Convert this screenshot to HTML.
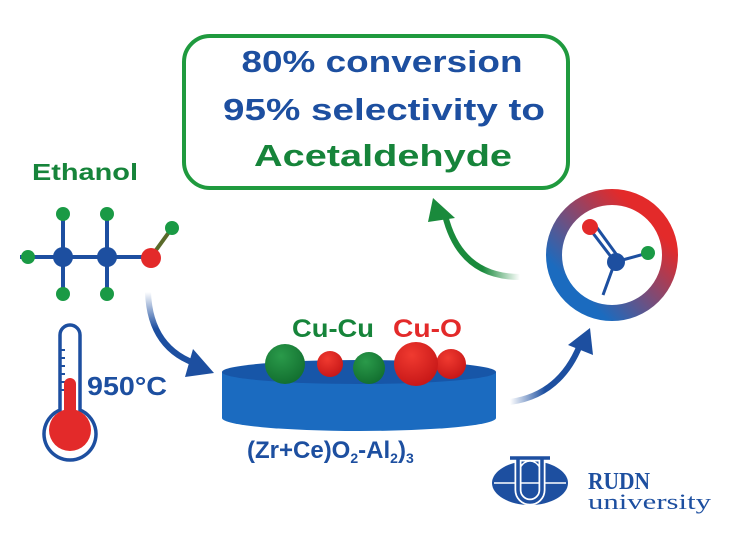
<!DOCTYPE html>
<html><head><meta charset="utf-8"><style>
html,body{margin:0;padding:0;background:#fff;width:750px;height:549px;overflow:hidden}
svg{display:block}
text{font-family:"Liberation Sans",sans-serif;font-weight:bold}
text.serif{font-family:"Liberation Serif",serif}
</style></head><body>
<svg width="750" height="549" viewBox="0 0 750 549" xmlns="http://www.w3.org/2000/svg">
<defs>
<linearGradient id="ring" x1="1" y1="0" x2="0" y2="1"><stop offset="0.2" stop-color="#e32a2a"/><stop offset="0.8" stop-color="#1b6bbf"/></linearGradient>
<linearGradient id="a1" x1="0" y1="0" x2="0" y2="1"><stop offset="0" stop-color="#fff"/><stop offset="0.5" stop-color="#1d4fa0"/></linearGradient>
<linearGradient id="a2" x1="0" y1="0" x2="1" y2="0"><stop offset="0" stop-color="#fff"/><stop offset="0.5" stop-color="#1d4fa0"/></linearGradient>
<linearGradient id="a3" x1="1" y1="0" x2="0" y2="0"><stop offset="0" stop-color="#fff"/><stop offset="0.5" stop-color="#1a8a3c"/></linearGradient>
<radialGradient id="gs" cx="0.4" cy="0.3" r="0.7"><stop offset="0" stop-color="#2a9a4a"/><stop offset="1" stop-color="#137030"/></radialGradient>
<radialGradient id="rs" cx="0.4" cy="0.3" r="0.7"><stop offset="0" stop-color="#f03a30"/><stop offset="1" stop-color="#c81818"/></radialGradient>
</defs>
<rect x="184" y="36" width="384" height="152" rx="26" fill="#fff" stroke="#1f9a3e" stroke-width="4"/>
<text x="382" y="72" text-anchor="middle" font-size="31" fill="#1d4fa0" textLength="281" lengthAdjust="spacingAndGlyphs">80% conversion</text>
<text x="384" y="120" text-anchor="middle" font-size="31" fill="#1d4fa0" textLength="322" lengthAdjust="spacingAndGlyphs">95% selectivity to</text>
<text x="383" y="166" text-anchor="middle" font-size="31" fill="#16843a" textLength="258" lengthAdjust="spacingAndGlyphs">Acetaldehyde</text>
<text x="32" y="180" font-size="23" fill="#16843a" textLength="106" lengthAdjust="spacingAndGlyphs">Ethanol</text>
<g stroke="#1d4fa0" stroke-width="4">
<line x1="20" y1="257" x2="151" y2="257"/><line x1="63" y1="213" x2="63" y2="300"/><line x1="107" y1="213" x2="107" y2="300"/>
</g>
<line x1="151" y1="257" x2="172" y2="228" stroke="#5a6a2a" stroke-width="4"/>
<g fill="#1a9a45"><circle cx="28" cy="257" r="7"/><circle cx="63" cy="214" r="7"/><circle cx="107" cy="214" r="7"/><circle cx="63" cy="294" r="7"/><circle cx="107" cy="294" r="7"/><circle cx="172" cy="228" r="7"/></g>
<circle cx="63" cy="257" r="10" fill="#1d4fa0"/><circle cx="107" cy="257" r="10" fill="#1d4fa0"/><circle cx="151" cy="258" r="10" fill="#e32a2a"/>
<path d="M60,410 V335 a10,10 0 0 1 20,0 V410 a26,26 0 1 1 -20,0 Z" fill="#fff" stroke="#1d4fa0" stroke-width="3.5"/>
<g stroke="#1d4fa0" stroke-width="2"><line x1="60" y1="350" x2="65" y2="350"/><line x1="60" y1="358" x2="65" y2="358"/><line x1="60" y1="366" x2="65" y2="366"/><line x1="60" y1="374" x2="65" y2="374"/><line x1="60" y1="382" x2="65" y2="382"/><line x1="60" y1="390" x2="65" y2="390"/></g>
<rect x="64" y="378" width="12" height="40" rx="6" fill="#e32a2a"/>
<circle cx="70" cy="430" r="21" fill="#e32a2a"/>
<text x="87" y="395" font-size="26" fill="#1d4fa0" textLength="80" lengthAdjust="spacingAndGlyphs">950°C</text>
<path d="M148,292 Q150,350 200,365" fill="none" stroke="url(#a1)" stroke-width="6"/>
<polygon points="193,349 214,373 185,377" fill="#1d4fa0"/>
<path d="M222,372 V418 A137,13 0 0 0 496,418 V372 Z" fill="#1b6bc0"/>
<ellipse cx="359" cy="372" rx="137" ry="12" fill="#1756a8"/>
<circle cx="285" cy="364" r="20" fill="url(#gs)"/>
<circle cx="330" cy="364" r="13" fill="url(#rs)"/>
<circle cx="369" cy="368" r="16" fill="url(#gs)"/>
<circle cx="451" cy="364" r="15" fill="url(#rs)"/>
<circle cx="416" cy="364" r="22" fill="url(#rs)"/>
<text x="292" y="337" font-size="25" fill="#16843a" textLength="82" lengthAdjust="spacingAndGlyphs">Cu-Cu</text>
<text x="393" y="337" font-size="25" fill="#e32a2a" textLength="69" lengthAdjust="spacingAndGlyphs">Cu-O</text>
<text x="247" y="458" font-size="24" fill="#1d4fa0">(Zr+Ce)O<tspan font-size="14" dy="5">2</tspan><tspan dy="-5">-Al</tspan><tspan font-size="14" dy="5">2</tspan><tspan dy="-5">)</tspan><tspan font-size="14" dy="5">3</tspan></text>
<path d="M510,402 Q560,395 580,345" fill="none" stroke="url(#a2)" stroke-width="6"/>
<polygon points="590,328 593,355 568,345" fill="#1d4fa0"/>
<path d="M520,277 Q460,277 445,215" fill="none" stroke="url(#a3)" stroke-width="6"/>
<polygon points="433,198 455,218 428,222" fill="#1a8a3c"/>
<circle cx="612" cy="255" r="58" fill="none" stroke="url(#ring)" stroke-width="16"/>
<g stroke-width="3"><line x1="589" y1="228" x2="615" y2="262" stroke="#1d4fa0"/><line x1="595" y1="225" x2="619" y2="258" stroke="#1d4fa0"/><line x1="615" y1="262" x2="648" y2="253" stroke="#1d4fa0"/><line x1="615" y1="262" x2="603" y2="295" stroke="#1d4fa0"/></g>
<circle cx="590" cy="227" r="8" fill="#e32a2a"/><circle cx="648" cy="253" r="7" fill="#1a9a45"/><circle cx="616" cy="262" r="9" fill="#1d4fa0"/>
<ellipse cx="530" cy="483" rx="38" ry="22" fill="#1d4fa0"/>
<g stroke="#fff" stroke-width="1.5" fill="none"><line x1="494" y1="483" x2="566" y2="483"/><ellipse cx="530" cy="483" rx="14" ry="22"/></g>
<path d="M510,458 H550 M518,458 V490 a12,12 0 0 0 24,0 V458" fill="none" stroke="#fff" stroke-width="7"/>
<path d="M510,458 H550 M518,458 V490 a12,12 0 0 0 24,0 V458" fill="none" stroke="#1d4fa0" stroke-width="3.5"/>
<text class="serif" x="588" y="489" font-size="24" fill="#1d4fa0" textLength="62" lengthAdjust="spacingAndGlyphs">RUDN</text>
<text class="serif" x="588" y="509" font-size="22" fill="#1d4fa0" style="font-weight:normal" textLength="123" lengthAdjust="spacingAndGlyphs">university</text>
</svg>
</body></html>
